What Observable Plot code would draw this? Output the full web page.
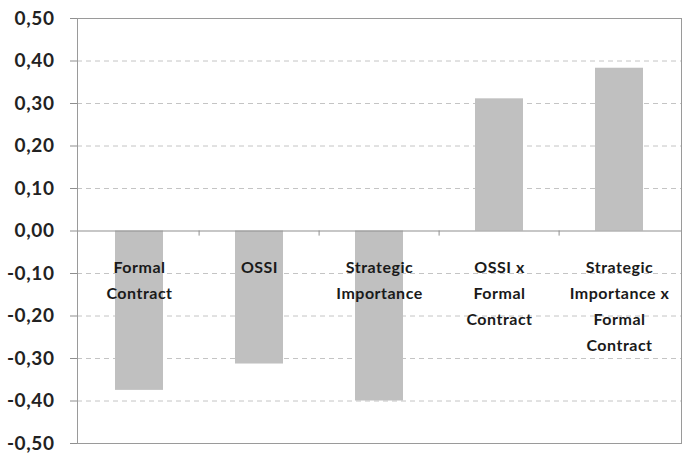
<!DOCTYPE html>
<html>
<head>
<meta charset="utf-8">
<script src="https://cdn.jsdelivr.net/npm/d3@7"></script>
<script src="https://cdn.jsdelivr.net/npm/@observablehq/plot@0.6"></script>
<style>
  html, body { margin: 0; padding: 0; background: #fff; }
  svg { display: block; }
  .ylab text { letter-spacing: 0.6px; }
  .clab text { letter-spacing: 0.5px; }
</style>
</head>
<body>
<div id="chart"></div>
<script>
const categories = ["Formal Contract", "OSSI", "Strategic Importance", "OSSI x Formal Contract", "Strategic Importance x Formal Contract"];
const labels = ["Formal\nContract", "OSSI", "Strategic\nImportance", "OSSI x\nFormal\nContract", "Strategic\nImportance x\nFormal\nContract"];
const values = [-0.375, -0.313, -0.400, 0.311, 0.383];
const yTicks = [-0.5, -0.4, -0.3, -0.2, -0.1, 0, 0.1, 0.2, 0.3, 0.4, 0.5];

const data = categories.map((c, i) => ({cat: c, label: labels[i], value: values[i]}));

const W = 682, H = 457;
const mL = 77, mR = 1, mT = 18, mB = 14;
const step = (W - mL - mR) / categories.length;
const fmt = d => d.toFixed(2).replace(".", ",");
const font = "Lato, 'Open Sans', sans-serif";

const chart = Plot.plot({
  width: W,
  height: H,
  marginLeft: mL,
  marginRight: mR,
  marginTop: mT,
  marginBottom: mB,
  style: {fontFamily: font, background: "#fff"},
  x: {type: "band", domain: categories, paddingInner: 0.6, paddingOuter: 0.3, axis: null},
  y: {domain: [-0.5, 0.5], axis: null},
  marks: [
    Plot.gridY(yTicks.filter(d => Math.abs(d) > 1e-9 && Math.abs(d) < 0.5), {stroke: "#c4c4c4", strokeOpacity: 1, strokeDasharray: "5,4"}),
    Plot.barY(data, {x: "cat", y: "value", fill: "#c0c0c0", inset: 0}),
    Plot.ruleY([0], {stroke: "#8f8f8f", strokeWidth: 1}),
    Plot.ruleX(categories.slice(1), {x: d => d, y1: 0, y2: -0.012, dx: -step / 2, stroke: "#8f8f8f"}),
    Plot.frame({stroke: "#9a9a9a"}),
    Plot.axisY(yTicks, {tickSize: 7, tickFormat: () => "", stroke: "#8f8f8f", label: null}),
    Plot.text(yTicks, {y: d => d, text: fmt, frameAnchor: "left", dx: -23, textAnchor: "end", fontSize: 19, fontWeight: "bold", fill: "#222", fontFamily: font, className: "ylab"}),
    Plot.text(data, {x: "cat", y: 0, text: "label", lineAnchor: "top", dy: 24, lineHeight: 1.62, fontSize: 16, fontWeight: "bold", fill: "#1a1a1a", fontFamily: font, className: "clab"})
  ]
});
document.getElementById("chart").appendChild(chart);
</script>
</body>
</html>
